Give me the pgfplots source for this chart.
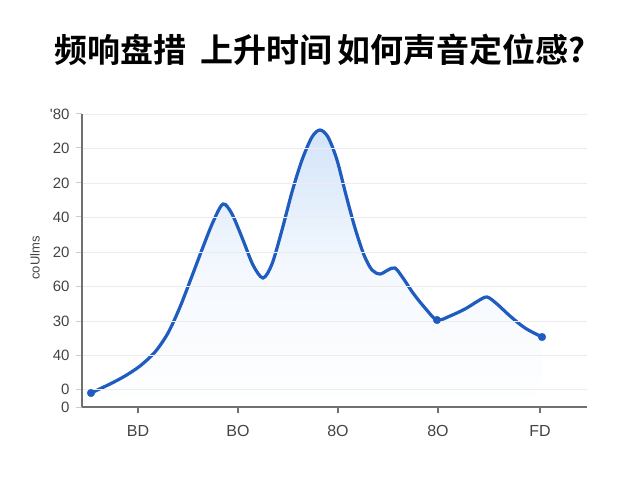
\documentclass[border=0pt]{standalone}
\usepackage{pgfplots}
\pgfplotsset{compat=1.18}
\usepackage{fontspec}
\setmainfont{Liberation Sans}
\newfontfamily\cjk{Noto Sans CJK SC Bold}
\definecolor{lineblue}{HTML}{1F5CC0}
\definecolor{axgray}{HTML}{707070}
\definecolor{gridc}{HTML}{ECECEC}
\definecolor{txtc}{HTML}{444444}
\definecolor{fillb}{HTML}{D3E4F9}
\begin{document}
\begin{tikzpicture}
\useasboundingbox (-82pt,-73pt) rectangle (558pt,407pt);
\begin{axis}[
  at={(0pt,0pt)}, anchor=origin,
  scale only axis, width=505pt, height=293pt,
  xmin=82, xmax=587, ymin=0, ymax=293,
  axis x line=bottom, axis y line=left,
  axis line style={axgray, line width=1.8pt, -},
  xtick={138,238,338,438,540},
  xticklabels={BD,BO,8O,8O,FD},
  ytick={0,18,52,86,121,155,190,224,259,293},
  yticklabels={0,0,40,30,60,20,40,20,20,{\textquotesingle 80}},
  x tick style={axgray, line width=1.5pt},
  y tick style={gridc!70!gray, line width=1pt},
  tick align=outside,
  major tick length=6pt,
  ymajorgrids, grid style={gridc, line width=0.8pt},
  xticklabel style={font=\fontsize{16}{16}\selectfont, text=txtc, yshift=-9pt},
  yticklabel style={font=\fontsize{15}{15}\selectfont, text=txtc, xshift=-3pt},
  clip=false,
  axis on top,
]
\addplot[draw=none, top color=fillb, bottom color=white, middle color=fillb!25, smooth, tension=0.5] coordinates {
(91,14)(110,23)(125,31)(140,41)(155,55)(168,74)(180,100)(192,131)(203,160)(213,185)(223,203)(232,193)(243,167)(253,142)(263,129)(272,143)(282,177)(292,215)(302,247)(312,270)(320,277)(328,270)(337,247)(346,212)(355,179)(364,152)(372,137)(380,133)(388,137)(395,139)(403,129)(413,114)(425,99)(437,87)(450,91)(465,98)(478,106)(487,110)(497,103)(510,91)(525,79)(542,70)
} \closedcycle;
\addplot[lineblue, line width=3.2pt, smooth, tension=0.5] coordinates {
(91,14)(110,23)(125,31)(140,41)(155,55)(168,74)(180,100)(192,131)(203,160)(213,185)(223,203)(232,193)(243,167)(253,142)(263,129)(272,143)(282,177)(292,215)(302,247)(312,270)(320,277)(328,270)(337,247)(346,212)(355,179)(364,152)(372,137)(380,133)(388,137)(395,139)(403,129)(413,114)(425,99)(437,87)(450,91)(465,98)(478,106)(487,110)(497,103)(510,91)(525,79)(542,70)
};
\addplot[only marks, mark=*, mark size=3.8pt, lineblue] coordinates {(91,14)(437,87)(542,70)};
\end{axis}
\node[rotate=90, text=txtc, font=\fontsize{13}{13}\selectfont] at (-47pt,149pt) {coUlms};
\node[font=\cjk\fontsize{33}{33}\selectfont] at (238pt,357pt) {频响盘措\hspace{0.4em}上升时间\hspace{0.15em}如何声音定位感?};
\end{tikzpicture}
\end{document}
